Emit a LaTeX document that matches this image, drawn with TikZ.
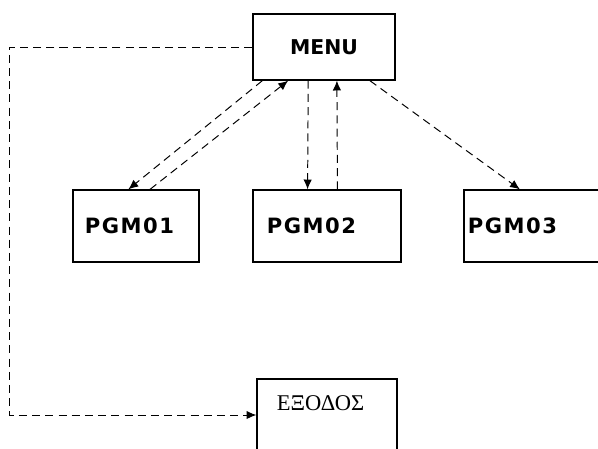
\documentclass[tikz,border=0pt]{standalone}
\usepackage{fontspec}
\usetikzlibrary{arrows.meta, calc}

\newfontfamily\menufont{DejaVu Sans}
\newfontfamily\pgmfont{DejaVu Sans}[LetterSpace=7]
\newfontfamily\grfont{Liberation Serif}

\begin{document}
\begin{tikzpicture}[x=0.025cm, y=-0.025cm,
  box/.style={draw, line width=0.9pt, rectangle, minimum height=1.8cm, align=left,
    font=\pgmfont\bfseries\fontsize{15}{18}\selectfont},
  flow/.style={dash pattern=on 0.2cm off 0.13cm, line width=0.7pt,
    -{Latex[length=7pt, width=6pt]}}]
\useasboundingbox (0,0) rectangle (598,448);
\clip (0,0) rectangle (598,448);

\node[box, minimum width=3.55cm, minimum height=1.65cm, align=center,
  font=\menufont\bfseries\fontsize{14.5}{18}\selectfont] (menu) at (324,47) {MENU};
\node[box, inner xsep=0.3cm, text width=2.55cm] (pgm1) at (136,226) {PGM01};
\node[box, inner xsep=0.35cm, text width=3.0cm] (pgm2) at (327,226) {PGM02};
\node[box, inner xsep=0.1cm, text width=3.3cm] (pgm3) at (534,226) {PGM03};
\node[box, minimum height=0pt, inner xsep=0.5cm, inner ysep=0pt, text width=2.5cm,
  text height=0.78cm, text depth=1.02cm,
  font=\grfont\fontsize{16}{19}\selectfont] (exit) at (327,415) {ΕΞΟΔΟΣ};

% calls down from the menu and returns back up
\draw[flow] ($(menu.south west)!0.07!(menu.south east)$) -- ($(pgm1.north west)!0.44!(pgm1.north east)$);
\draw[flow] ($(pgm1.north west)!0.61!(pgm1.north east)$) -- ($(menu.south west)!0.25!(menu.south east)$);
\draw[flow] ($(menu.south west)!0.39!(menu.south east)$) -- ($(pgm2.north west)!0.37!(pgm2.north east)$);
\draw[flow] ($(pgm2.north west)!0.57!(pgm2.north east)$) -- ($(menu.south west)!0.59!(menu.south east)$);
\draw[flow] ($(menu.south west)!0.82!(menu.south east)$) -- ($(pgm3.north west)!0.4!(pgm3.north east)$);

% way out
\draw[flow] (menu.west) -- ++(-243,0) |- (exit.west);
\end{tikzpicture}
\end{document}
